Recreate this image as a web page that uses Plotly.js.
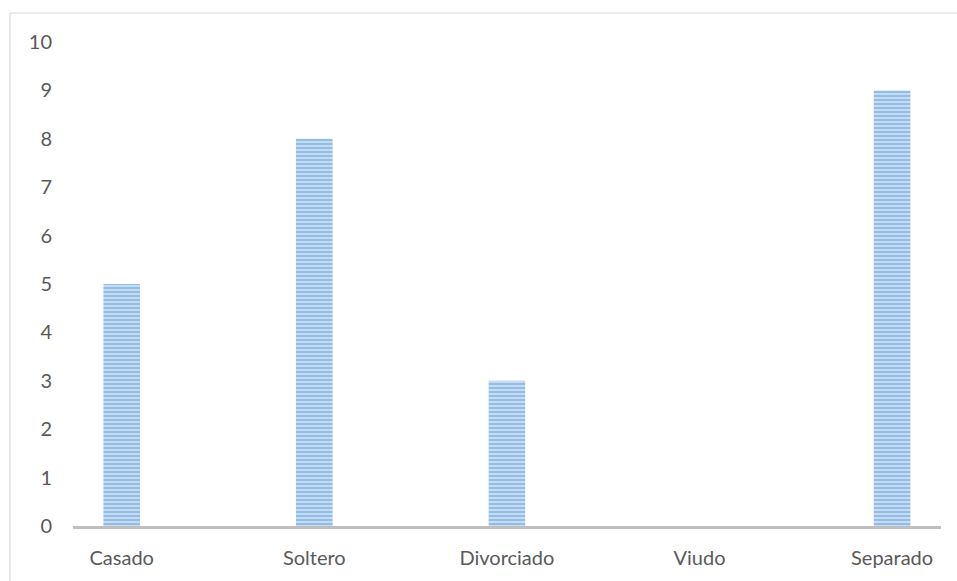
<!DOCTYPE html>
<html>
<head>
<meta charset="utf-8">
<script src="https://cdn.plot.ly/plotly-3.0.1.min.js"></script>
<style>
html,body{margin:0;padding:0;background:#fff;}
#chart{width:957px;height:581px;}
</style>
</head>
<body>
<div id="chart"></div>
<script>
const categories = ["Casado", "Soltero", "Divorciado", "Viudo", "Separado"];
const values = [5, 8, 3, 0, 9];
const yTicks = [0, 1, 2, 3, 4, 5, 6, 7, 8, 9, 10];

const W = 957, H = 581;
const L = 73, R = 16, T = 42, B = 55;
const pw = W - L - R, ph = H - T - B;
const px = x => (x - L) / pw;
const py = y => (H - B - y) / ph;

const trace = {
  type: "bar",
  x: categories,
  y: values,
  width: 0.19,
  marker: {
    color: "#c9def2",
    line: {width: 0},
    pattern: {shape: "-", fgcolor: "#5b9bd5", bgcolor: "#c9def2", size: 4, solidity: 0.55, fillmode: "overlay"}
  },
  hoverinfo: "x+y"
};

const layout = {
  width: W, height: H,
  margin: {l: L, r: R, t: T, b: B, pad: 0},
  paper_bgcolor: "#ffffff",
  plot_bgcolor: "#ffffff",
  showlegend: false,
  font: {family: "Lato, 'Open Sans', sans-serif", color: "#595959", size: 20},
  xaxis: {
    type: "category",
    range: [-0.253, 4.254],
    showgrid: false,
    zeroline: false,
    showline: true,
    linecolor: "#bfbfbf",
    linewidth: 3,
    ticks: "",
    ticklabelstandoff: 12,
    tickfont: {size: 20, color: "#595959"},
    fixedrange: true
  },
  yaxis: {
    range: [0, 10],
    tickvals: yTicks,
    ticktext: yTicks.map(String),
    showgrid: false,
    zeroline: false,
    showline: false,
    ticks: "",
    ticklabelstandoff: 20,
    tickfont: {size: 20, color: "#595959"},
    fixedrange: true
  },
  shapes: [
    {type: "line", xref: "paper", yref: "paper", x0: px(10), x1: px(10), y0: py(13), y1: py(585), line: {color: "#d9d9d9", width: 1.2}},
    {type: "line", xref: "paper", yref: "paper", x0: px(10), x1: px(960), y0: py(13), y1: py(13), line: {color: "#d9d9d9", width: 1.2}}
  ]
};

Plotly.newPlot("chart", [trace], layout, {displayModeBar: false, staticPlot: true});
</script>
</body>
</html>
